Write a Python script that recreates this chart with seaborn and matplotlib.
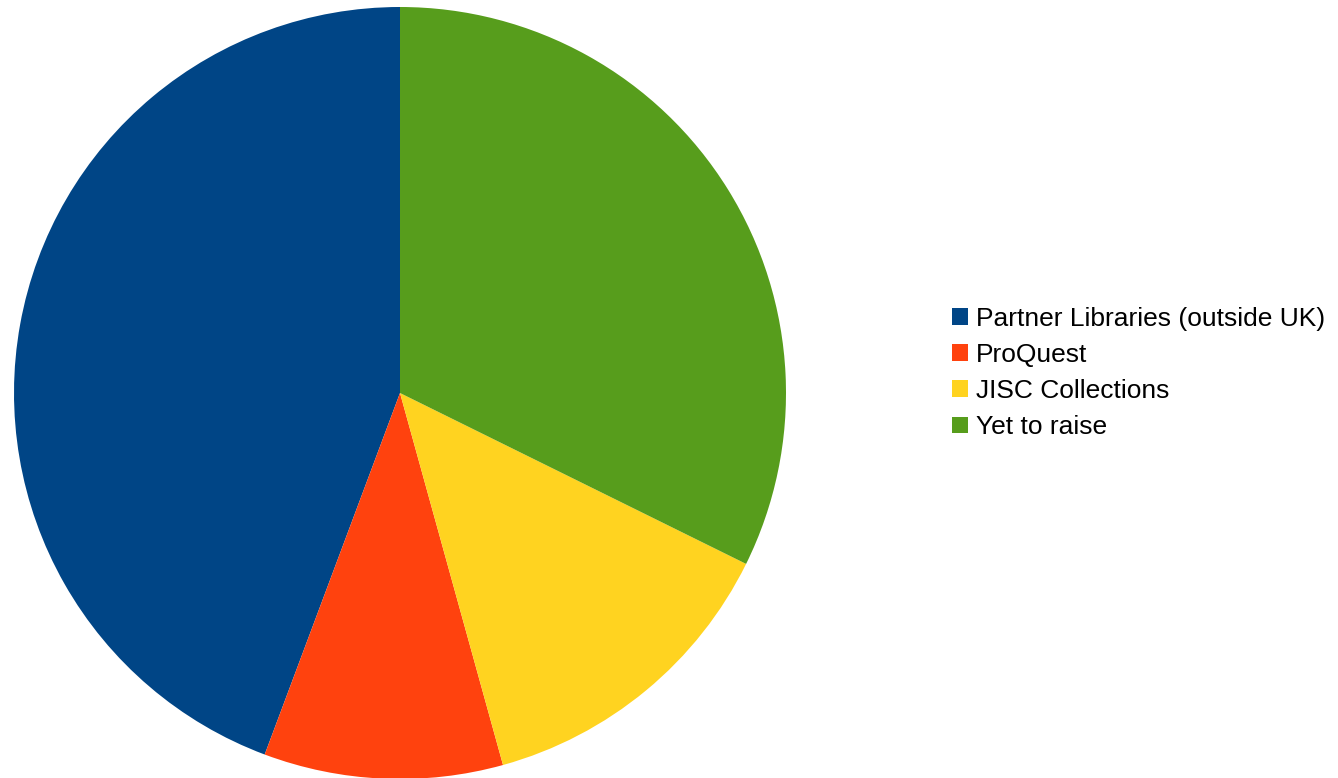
import matplotlib
matplotlib.use("Agg")
import matplotlib.pyplot as plt
import seaborn as sns
from matplotlib.patches import Patch

labels = ["Partner Libraries (outside UK)", "ProQuest", "JISC Collections", "Yet to raise"]
shares = [44.3, 10.0, 13.4, 32.3]
colors = ["#004586", "#ff420e", "#ffd320", "#579d1c"]

sns.set_theme(style="white")
plt.rcParams["font.family"] = ["Liberation Sans", "DejaVu Sans"]

W, H = 1338, 778
fig = plt.figure(figsize=(W / 100, H / 100), dpi=100)
cx, cy, r = 400, 393, 386
ax = fig.add_axes([(cx - r) / W, (H - cy - r) / H, 2 * r / W, 2 * r / H])
ax.pie(shares, colors=colors, startangle=90, counterclock=True, radius=1,
       wedgeprops=dict(linewidth=0))
ax.set_xlim(-1, 1)
ax.set_ylim(-1, 1)
ax.set_aspect("equal")
ax.axis("off")

handles = [Patch(facecolor=c, edgecolor="none") for c in colors]
fig.legend(handles, labels, loc="center left", bbox_to_anchor=(952 / W, 1 - 373 / H),
           frameon=False, fontsize=19, labelcolor="black", handlelength=0.6, handleheight=0.6,
           handletextpad=0.3, labelspacing=0.46, borderaxespad=0, borderpad=0)

fig.savefig("out.png", dpi=100)
